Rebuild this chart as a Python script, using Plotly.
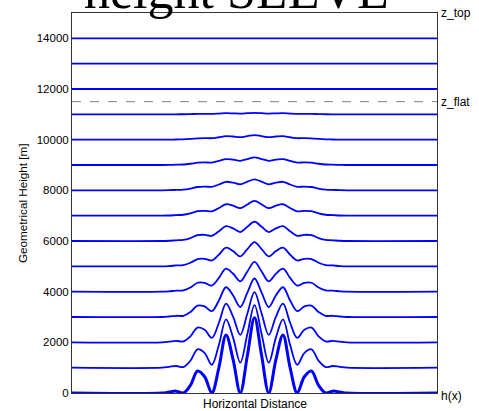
import plotly.graph_objects as go

# ---- data ----
# horizontal nodes (km), left half; mirrored for the right half
x_half = [0.0, 1.95, 3.9, 5.85, 7.8, 9.75, 11.7, 13.65, 15.6, 17.55, 19.5, 21.45, 23.4, 25.35]
# surface height h(x) at the nodes [m]
h_total_half = [2970, 1478, 0, 1306, 2290, 1004, 0, 642, 870, 305, 0, 74, 40, 0]
# large-scale (smoothed) part of the topography at the nodes [m]
h_large_half = [1500, 1478, 1411, 1306, 1167, 1004, 825, 642, 465, 305, 172, 74, 15, 0]

levels = [0, 1000, 2000, 3000, 4000, 5000, 6000, 7000, 8000, 9000, 10000, 11000, 12000, 13000, 14000]
# decay of the large- and small-scale terrain signal at each level
decay_large = [1.0, 0.90, 0.77, 0.65, 0.54, 0.46, 0.38, 0.30, 0.23, 0.16, 0.095, 0.03, 0, 0, 0]
decay_small = [1.0, 0.76, 0.56, 0.37, 0.25, 0.18, 0.13, 0.09, 0.062, 0.042, 0.025, 0.008, 0, 0, 0]

z_top = 15000
z_flat = 11500
x_min, x_max = -50, 50
y_ticks = [0, 2000, 4000, 6000, 8000, 10000, 12000, 14000]

# build full node arrays
x_nodes = [x_min] + [-v for v in x_half[::-1]] + x_half[1:] + [x_max]
h_total = [0] + h_total_half[::-1] + h_total_half[1:] + [0]
h_large = [0] + h_large_half[::-1] + h_large_half[1:] + [0]
h_small = [t - l for t, l in zip(h_total, h_large)]

fig = go.Figure()
for lev, b1, b2 in zip(levels, decay_large, decay_small):
    z = [lev + b1 * hl + b2 * hs for hl, hs in zip(h_large, h_small)]
    fig.add_trace(go.Scatter(
        x=x_nodes, y=z, mode="lines",
        line=dict(color="#0000ff", width=3 if lev == 0 else 1.8, shape="spline", smoothing=1.0),
        showlegend=False, hoverinfo="skip"))

fig.add_trace(go.Scatter(
    x=[x_min, x_max], y=[z_flat, z_flat], mode="lines",
    line=dict(color="#808080", width=1, dash="dash"),
    showlegend=False, hoverinfo="skip"))

font_sans = "Liberation Sans, Arial, sans-serif"
fig.update_layout(
    width=479, height=411,
    margin=dict(l=72, r=42, t=12, b=14),
    paper_bgcolor="white", plot_bgcolor="white",
    font=dict(family=font_sans, size=11, color="black"),
    xaxis=dict(range=[x_min, x_max], showticklabels=False, ticks="", showgrid=False,
               zeroline=False, showline=True, linecolor="#333333", linewidth=1, mirror=True),
    yaxis=dict(range=[0, z_top], tickvals=y_ticks, tickformat="d", showgrid=False, zeroline=False,
               showline=True, linecolor="#333333", linewidth=1, mirror=True, ticks="",
               tickfont=dict(size=11.5)),
    annotations=[
        dict(text="height SLEVE", xref="paper", yref="paper", x=0.45, y=1.0, yshift=-8,
             xanchor="center", yanchor="bottom", showarrow=False,
             font=dict(family="Liberation Serif, Times New Roman, serif", size=52, color="black")),
        dict(text="Horizontal Distance", xref="paper", yref="paper", x=0.5, y=0, yshift=-2,
             xanchor="center", yanchor="top", showarrow=False, font=dict(size=12)),
        dict(text="Geometrical Height [m]", xref="paper", yref="paper", x=0, xshift=-50, y=0.5,
             xanchor="center", yanchor="middle", textangle=-90, showarrow=False, font=dict(size=11.7)),
        dict(text="z_top", xref="paper", yref="y", x=1, xshift=2, y=z_top,
             xanchor="left", yanchor="middle", showarrow=False, font=dict(size=12)),
        dict(text="z_flat", xref="paper", yref="y", x=1, xshift=2, y=z_flat,
             xanchor="left", yanchor="middle", showarrow=False, font=dict(size=12)),
        dict(text="h(x)", xref="paper", yref="y", x=1, xshift=2, y=0, yshift=-3,
             xanchor="left", yanchor="middle", showarrow=False, font=dict(size=12)),
    ],
)

fig.write_html("out.html")
